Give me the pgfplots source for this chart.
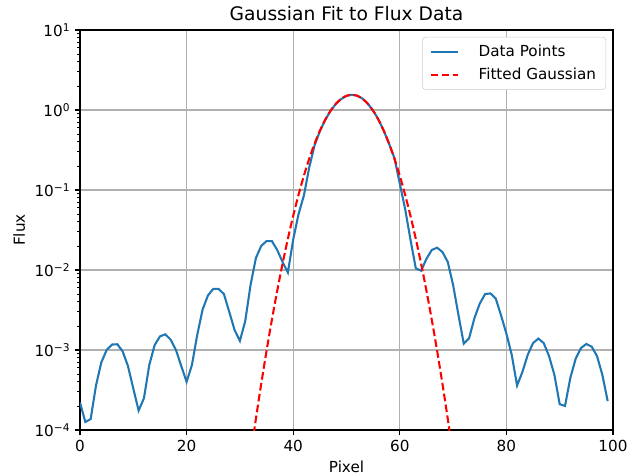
\documentclass[border=0pt]{standalone}
\usepackage{fontspec}
\setmainfont{DejaVu Sans}
\usepackage{pgfplots}
\pgfplotsset{compat=1.18}
\definecolor{mplblue}{HTML}{1F77B4}
\definecolor{gridgray}{HTML}{B0B0B0}
\begin{document}
\begin{tikzpicture}
\begin{axis}[
  scale only axis, width=5.33in, height=4in,
  xmin=0, xmax=100, ymode=log, ymin=1e-4, ymax=10,
  xtick={0,20,40,60,80,100},
  ytick={1e-4,1e-3,1e-2,1e-1,1,10},
  yticklabels={10\textsuperscript{−4},10\textsuperscript{−3},10\textsuperscript{−2},10\textsuperscript{−1},10\textsuperscript{0},10\textsuperscript{1}},
  minor ytick={2e-4,3e-4,4e-4,5e-4,6e-4,7e-4,8e-4,9e-4,2e-3,3e-3,4e-3,5e-3,6e-3,7e-3,8e-3,9e-3,2e-2,3e-2,4e-2,5e-2,6e-2,7e-2,8e-2,9e-2,0.2,0.3,0.4,0.5,0.6,0.7,0.8,0.9,2,3,4,5,6,7,8,9},
  grid=major, major grid style={gridgray, line width=0.8pt},
  tick align=outside, tick pos=left,
  major tick length=3.5pt, minor tick length=2pt,
  major tick style={black, line width=0.8pt},
  minor tick style={black, line width=0.6pt},
  axis line style={line width=0.8pt},
  ticklabel style={font=\fontsize{11}{13}\selectfont},
  /pgf/number format/assume math mode=true,
  title={Gaussian Fit to Flux Data},
  title style={font=\fontsize{13.5}{16}\selectfont, yshift=-3pt},
  xlabel={Pixel}, ylabel={Flux},
  label style={font=\fontsize{11}{13}\selectfont},
  legend style={at={(1,1)}, anchor=north east, xshift=-5pt, yshift=-5pt,
    draw=black!20, rounded corners=2pt, font=\fontsize{11}{13}\selectfont,
    inner xsep=5pt, inner ysep=3.5pt, row sep=3pt,
    /tikz/every odd column/.append style={column sep=12pt}},
  legend cell align=left,
  legend image code/.code={\draw[#1] (0pt,0pt) -- (20pt,0pt);},
]
\addplot[mplblue, line width=1.5pt] coordinates {
(0,2.2e-4)(1,1.26e-4)(2,1.37e-4)(3,3.6e-4)(4,7.0e-4)(5,1.0e-3)(6,1.17e-3)(7,1.18e-3)(8,9.6e-4)(9,6.3e-4)
(10,3.3e-4)(11,1.75e-4)(12,2.5e-4)(13,6.5e-4)(14,1.15e-3)(15,1.48e-3)(16,1.57e-3)(17,1.35e-3)(18,1.0e-3)(19,6.3e-4)
(20,4.0e-4)(21,6.5e-4)(22,1.55e-3)(23,3.2e-3)(24,4.8e-3)(25,5.8e-3)(26,5.8e-3)(27,5.0e-3)(28,3.0e-3)(29,1.78e-3)
(30,1.3e-3)(31,2.3e-3)(32,6.5e-3)(33,0.0141)(34,0.020)(35,0.023)(36,0.023)(37,0.0178)(38,0.0126)(39,0.0093)
(40,0.024)(41,0.050)(42,0.085)(43,0.19)(44,0.36)(45,0.543)(46,0.75)(47,0.975)(48,1.19)(49,1.37)
(50,1.5)(51,1.55)(52,1.51)(53,1.39)(54,1.2)(55,0.98)(56,0.76)(57,0.55)(58,0.375)(59,0.25)
(60,0.12)(61,0.058)(62,0.024)(63,0.0105)(64,0.0098)(65,0.0138)(66,0.0178)(67,0.019)(68,0.0168)(69,0.0126)
(70,0.0065)(71,0.00275)(72,0.0012)(73,0.0014)(74,0.0025)(75,0.0038)(76,0.005)(77,0.0051)(78,0.0044)(79,0.0027)
(80,0.0016)(81,0.00087)(82,0.00036)(83,0.00053)(84,0.00087)(85,0.00122)(86,0.00139)(87,0.00122)(88,0.00084)(89,0.00049)
(90,0.00021)(91,0.0002)(92,0.00045)(93,0.00078)(94,0.00106)(95,0.00119)(96,0.0011)(97,0.00084)(98,0.00049)(99,0.00023)
};
\addlegendentry{Data Points}
\addplot[red, line width=1.5pt, dash pattern=on 5.55pt off 2.4pt] coordinates {
(32,4.76e-5)(32.5,8.16e-5)(33,1.38e-4)(33.5,2.30e-4)(34,3.78e-4)(34.5,6.12e-4)(35,9.77e-4)(35.5,1.538e-3)
(36,2.385e-3)(36.5,3.65e-3)(37,5.50e-3)(37.5,8.16e-3)(38,1.196e-2)(38.5,1.725e-2)(39,2.455e-2)(39.5,3.44e-2)
(40,4.76e-2)(40.5,6.48e-2)(41,8.71e-2)(41.5,0.1153)(42,0.1505)(42.5,0.1936)(43,0.2455)(43.5,0.307)
(44,0.378)(44.5,0.459)(45,0.550)(45.5,0.648)(46,0.754)(46.5,0.865)(47,0.977)(47.5,1.089)
(48,1.195)(48.5,1.294)(49,1.380)(49.5,1.452)(50,1.505)(50.5,1.538)(51,1.549)(51.5,1.538)
(52,1.505)(52.5,1.452)(53,1.380)(53.5,1.294)(54,1.195)(54.5,1.089)(55,0.977)(55.5,0.865)
(56,0.754)(56.5,0.648)(57,0.550)(57.5,0.459)(58,0.378)(58.5,0.307)(59,0.2455)(59.5,0.1936)
(60,0.1505)(60.5,0.1153)(61,8.71e-2)(61.5,6.48e-2)(62,4.76e-2)(62.5,3.44e-2)(63,2.455e-2)(63.5,1.725e-2)
(64,1.196e-2)(64.5,8.16e-3)(65,5.50e-3)(65.5,3.65e-3)(66,2.385e-3)(66.5,1.538e-3)(67,9.77e-4)(67.5,6.12e-4)
(68,3.78e-4)(68.5,2.30e-4)(69,1.38e-4)(69.5,8.16e-5)(70,4.76e-5)
};
\addlegendentry{Fitted Gaussian}
\end{axis}
\pgfresetboundingbox
\path[use as bounding box] ([xshift=-0.80in, yshift=-0.46in]current axis.south west) rectangle ([xshift=0.18in, yshift=0.30in]current axis.north east);
\end{tikzpicture}
\end{document}
